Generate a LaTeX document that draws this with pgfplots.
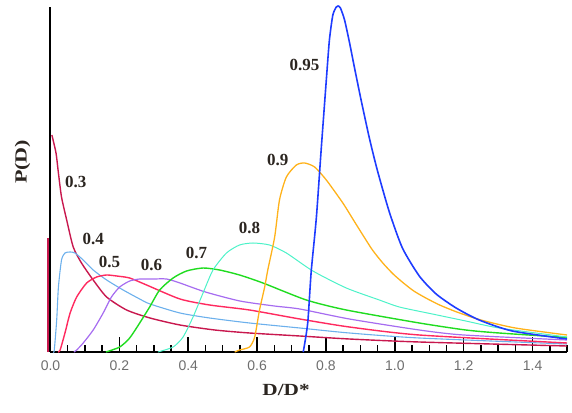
\documentclass[border=0pt]{standalone}
\usepackage{fontspec}
\setmainfont{Liberation Serif}
\newfontfamily\ticksans{Liberation Sans}
\usepackage{graphicx}
\usepackage{pgfplots}
\pgfplotsset{compat=1.18}

\definecolor{cthree}{HTML}{C8184E}
\definecolor{cfour}{HTML}{6CB0EC}
\definecolor{cfive}{HTML}{FF2A5F}
\definecolor{csix}{HTML}{A66CF0}
\definecolor{cseven}{HTML}{20DC20}
\definecolor{ceight}{HTML}{4CF2C8}
\definecolor{cnine}{HTML}{FFB21A}
\definecolor{cninefive}{HTML}{1E3CFF}
\definecolor{lbl}{HTML}{2B2520}
\definecolor{tickgray}{HTML}{6E6E6E}

\begin{document}
\begin{tikzpicture}
\begin{axis}[
    at={(0,0)}, anchor=south west,
    scale only axis,
    width=516.5pt, height=345pt,
    xmin=0, xmax=1.5,
    ymin=0, ymax=3.45,
    clip=false,
    axis x line*=bottom,
    axis y line*=left,
    every outer x axis line/.append style={black, line width=2pt},
    every outer y axis line/.append style={black, line width=2pt},
    ytick=\empty,
    xtick={0,0.2,...,1.4},
    minor xtick={0,0.05,...,1.5},
    tick align=inside,
    major tick length=15pt,
    minor tick length=7pt,
    every tick/.style={black, line width=1.5pt},
    xticklabel style={font=\ticksans\fontsize{14}{14}\selectfont, text=tickgray, anchor=center, yshift=-14pt},
    /pgf/number format/.cd, fixed, fixed zerofill, precision=1, assume math mode=true,
    /pgfplots/.cd,
    xlabel={\scalebox{1.25}[1]{\textbf{D/D*}}},
    ylabel={\scalebox{1.3}[1]{\textbf{P(D)}}},
    label style={font=\fontsize{17}{17}\selectfont, text=lbl},
    xlabel style={at={(axis description cs:0.456,0)}, anchor=center, yshift=-38pt},
    ylabel style={at={(axis description cs:0,0.551)}, anchor=center, yshift=28pt},
]

% red segment beside the y axis
\addplot[cthree, line width=1.5pt] coordinates {(-0.0075,0) (-0.0075,1.14)};

% 0.3
\addplot[cthree, line width=1.4pt, smooth, tension=0.4] coordinates {
 (0.004,2.17) (0.016,1.99) (0.023,1.79) (0.032,1.55) (0.047,1.32) (0.066,1.05)
 (0.090,0.89) (0.124,0.72) (0.163,0.55) (0.221,0.42) (0.289,0.34) (0.376,0.27)
 (0.477,0.22) (0.578,0.19) (0.724,0.16) (0.868,0.13) (1.071,0.10) (1.5,0.06)
};
% 0.4
\addplot[cfour, line width=1.1pt, smooth, tension=0.4] coordinates {
 (0.008,0) (0.011,0.02) (0.018,0.32) (0.023,0.65) (0.032,0.92) (0.042,0.99)
 (0.057,1.00) (0.071,0.99) (0.095,0.92) (0.124,0.82) (0.163,0.72) (0.211,0.62)
 (0.259,0.53) (0.289,0.48) (0.376,0.39) (0.462,0.34) (0.578,0.29) (0.724,0.24)
 (0.868,0.19) (1.071,0.14) (1.5,0.08)
};
% 0.5
\addplot[cfive, line width=1.4pt, smooth, tension=0.4] coordinates {
 (0.022,0) (0.028,0.02) (0.042,0.19) (0.057,0.39) (0.076,0.55) (0.105,0.69)
 (0.134,0.75) (0.163,0.77) (0.192,0.76) (0.230,0.74) (0.279,0.67) (0.376,0.53)
 (0.462,0.47) (0.578,0.42) (0.724,0.33) (0.868,0.25) (1.071,0.17) (1.5,0.09)
};
% 0.6
\addplot[csix, line width=1.2pt, smooth, tension=0.4] coordinates {
 (0.068,0) (0.076,0.02) (0.095,0.09) (0.124,0.22) (0.153,0.39) (0.177,0.55)
 (0.201,0.65) (0.230,0.71) (0.259,0.73) (0.298,0.73) (0.337,0.73) (0.376,0.69)
 (0.450,0.60) (0.550,0.51) (0.650,0.46) (0.724,0.43) (0.868,0.33) (1.071,0.22)
 (1.200,0.17) (1.5,0.12)
};
% 0.7
\addplot[cseven, line width=1.4pt, smooth, tension=0.4] coordinates {
 (0.161,0) (0.201,0.05) (0.230,0.14) (0.259,0.29) (0.288,0.45) (0.317,0.62)
 (0.356,0.74) (0.395,0.81) (0.443,0.84) (0.491,0.82) (0.549,0.77) (0.617,0.69)
 (0.743,0.52) (0.859,0.42) (1.071,0.29) (1.206,0.22) (1.303,0.19) (1.5,0.145)
};
% 0.8
\addplot[ceight, line width=1.0pt, smooth, tension=0.4] coordinates {
 (0.312,0) (0.356,0.05) (0.385,0.15) (0.414,0.35) (0.443,0.59) (0.472,0.82)
 (0.511,0.99) (0.549,1.07) (0.588,1.09) (0.636,1.07) (0.685,0.99) (0.762,0.81)
 (0.859,0.64) (0.955,0.52) (1.013,0.45) (1.109,0.38) (1.206,0.31) (1.303,0.24) (1.5,0.15)
};
% 0.9
\addplot[cnine, line width=1.3pt, smooth, tension=0.4] coordinates {
 (0.535,0) (0.549,0.02) (0.578,0.05) (0.593,0.15) (0.607,0.42) (0.622,0.65)
 (0.631,0.82) (0.651,1.15) (0.665,1.52) (0.685,1.75) (0.714,1.87) (0.738,1.89)
 (0.767,1.85) (0.801,1.72) (0.849,1.49) (0.878,1.33) (0.907,1.17) (0.935,1.02)
 (0.965,0.89) (0.995,0.78) (1.025,0.69) (1.055,0.61) (1.090,0.54) (1.130,0.47)
 (1.180,0.40) (1.250,0.32) (1.350,0.24) (1.5,0.17)
};
% 0.95
\addplot[cninefive, line width=1.6pt, smooth, tension=0.4] coordinates {
 (0.734,0) (0.747,0.29) (0.757,0.80) (0.772,1.34) (0.786,2.02) (0.801,2.72)
 (0.810,3.12) (0.820,3.37) (0.830,3.45) (0.835,3.46) (0.842,3.44) (0.854,3.32)
 (0.868,3.10) (0.883,2.84) (0.902,2.52) (0.926,2.14) (0.949,1.82) (0.984,1.40)
 (1.022,1.04) (1.071,0.76) (1.120,0.58) (1.178,0.44) (1.245,0.32) (1.341,0.21) (1.5,0.13)
};

\begin{scope}[every node/.style={font=\bfseries\fontsize{17}{17}\selectfont, text=lbl}]
\node at (axis cs:0.073,1.70) {0.3};
\node at (axis cs:0.124,1.13) {0.4};
\node at (axis cs:0.171,0.90) {0.5};
\node at (axis cs:0.293,0.87) {0.6};
\node at (axis cs:0.424,0.99) {0.7};
\node at (axis cs:0.578,1.24) {0.8};
\node at (axis cs:0.660,1.92) {0.9};
\node at (axis cs:0.738,2.87) {0.95};
\end{scope}
\end{axis}
\pgfresetboundingbox
\path (-50.5pt,-60pt) rectangle (521.5pt,352pt);
\end{tikzpicture}
\end{document}
